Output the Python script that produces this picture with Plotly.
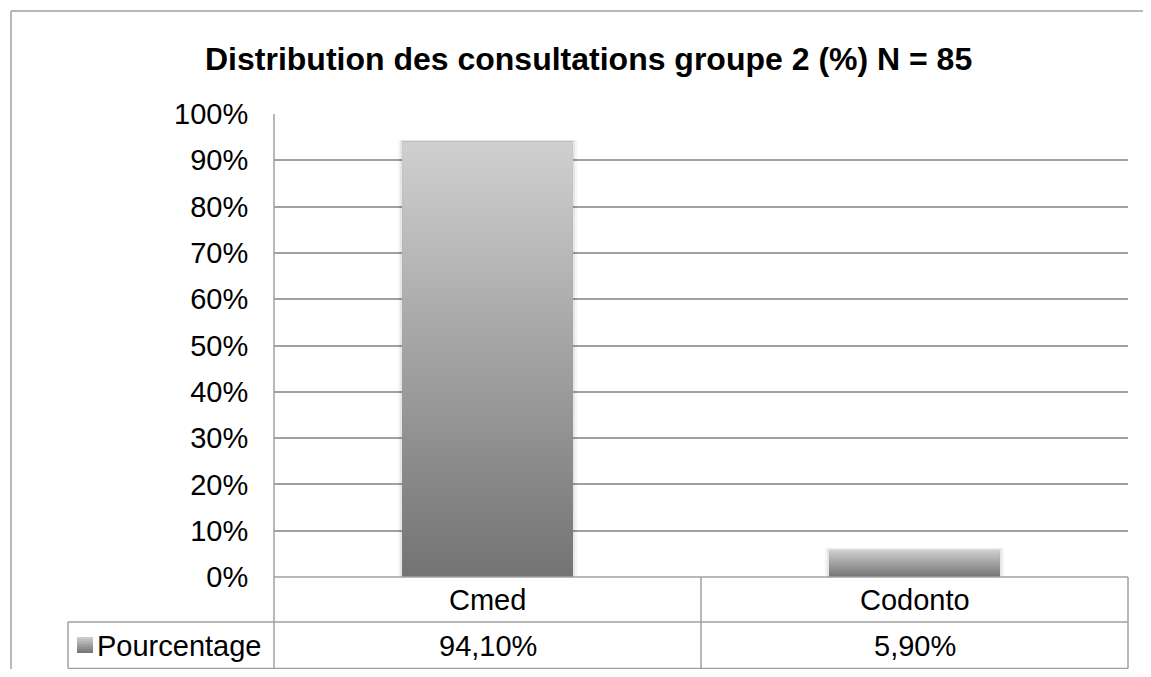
import plotly.graph_objects as go

# ---- data ----
categories = ["Cmed", "Codonto"]
values = [94.1, 5.9]          # percent
series_name = "Pourcentage"
title_text = "Distribution des consultations groupe 2 (%) N = 85"
y_ticks = list(range(0, 101, 10))

# ---- layout geometry (pixels, in screenshot space) ----
SCREEN_W, SCREEN_H = 1151, 677
OFF = 8   # page body margin of the browser
W, H = SCREEN_W - 2 * OFF, SCREEN_H - 2 * OFF   # avoid page scrollbars
PL, PR, PT, PB = 274, 1128, 114, 577
FONT = "Liberation Sans, Arial, sans-serif"
FS = 29
GRID = "#a0a0a0"
BAR_W = 0.40

def yp(y):  # screenshot pixel y -> paper y
    return (PB - y) / (PB - PT)

def xp(x):  # screenshot pixel x -> paper x
    return (x - PL) / (PR - PL)

fig = go.Figure()

xs = list(range(len(categories)))

# base bars (data)
fig.add_trace(go.Bar(
    x=xs, y=values, width=BAR_W, marker=dict(color="#a0a0a0", line=dict(width=0)),
    name=series_name, showlegend=False, hoverinfo="skip",
))

# gradient overlay for each bar, derived from the same data
for i, v in zip(xs, values):
    for k, a in [(0.010, 0.04), (0.005, 0.06)]:
        fig.add_trace(go.Scatter(
            x=[i - BAR_W / 2 - k, i + BAR_W / 2 + k, i + BAR_W / 2 + k, i - BAR_W / 2 - k, i - BAR_W / 2 - k],
            y=[0, 0, v + 0.3, v + 0.3, 0],
            fill="toself", mode="none", fillcolor=f"rgba(0,0,0,{a})",
            showlegend=False, hoverinfo="skip",
        ))
    fig.add_trace(go.Scatter(
        x=[i - BAR_W / 2, i + BAR_W / 2, i + BAR_W / 2, i - BAR_W / 2, i - BAR_W / 2],
        y=[0, 0, v, v, 0],
        fill="toself", mode="none",
        fillgradient=dict(type="vertical",
                          colorscale=[[0, "#737373"], [1, "#d0d0d0"]]),
        showlegend=False, hoverinfo="skip",
    ))

shapes = []
line = dict(color=GRID, width=1.5)
def hline(y, x0, x1):
    shapes.append(dict(type="line", xref="paper", yref="paper",
                       x0=xp(x0), x1=xp(x1), y0=yp(y), y1=yp(y), line=line, layer="above"))
def vline(x, y0, y1):
    shapes.append(dict(type="line", xref="paper", yref="paper",
                       x0=xp(x), x1=xp(x), y0=yp(y0), y1=yp(y1), line=line, layer="above"))

# outer chart border (cut off at right / bottom)
hline(11, 11, SCREEN_W + 30)
vline(11, 11, SCREEN_H + 30)

# data table
hline(PB, PL, PR)
hline(622, 68, PR)
hline(668.5, 68, PR)
vline(68, 622, 668.5)
vline(PL, PT, 668.5)
vline(PR, PB, 668.5)
for i in range(len(categories) - 1):
    shapes.append(dict(type="line", xref="x", yref="paper", x0=i + 0.5, x1=i + 0.5,
                       y0=yp(PB), y1=yp(668.5), line=line, layer="above"))

# legend key (small gradient square)
n = 8
for k in range(n):
    c = int(0xd0 - (0xd0 - 0x73) * (k + 0.5) / n)
    shapes.append(dict(type="rect", xref="paper", yref="paper",
                       x0=xp(77), x1=xp(93), y0=yp(637 + 2 * k), y1=yp(639 + 2 * k),
                       fillcolor=f"rgb({c},{c},{c})", line=dict(width=0), layer="above"))

annotations = []
for i, (c, v) in enumerate(zip(categories, values)):
    annotations.append(dict(x=i, xref="x", y=yp(600), yref="paper", text=c,
                            showarrow=False, font=dict(size=FS, color="black", family=FONT),
                            xanchor="center", yanchor="middle"))
    annotations.append(dict(x=i, xref="x", y=yp(646), yref="paper",
                            text=f"{v:.2f}".replace(".", ",") + "%",
                            showarrow=False, font=dict(size=FS, color="black", family=FONT),
                            xanchor="center", yanchor="middle"))
annotations.append(dict(x=xp(95), xref="paper", y=yp(646), yref="paper", text=series_name,
                        showarrow=False, font=dict(size=FS, color="black", family=FONT),
                        xanchor="left", yanchor="middle"))
annotations.append(dict(x=xp(588.5), xref="paper", y=yp(59), yref="paper",
                        text=f"<b>{title_text}</b>",
                        showarrow=False, font=dict(size=32, color="black", family=FONT),
                        xanchor="center", yanchor="middle"))

fig.update_layout(
    width=W, height=H,
    margin=dict(l=PL - OFF, r=W - (PR - OFF), t=PT - OFF, b=H - (PB - OFF), autoexpand=False),
    paper_bgcolor="white", plot_bgcolor="white",
    showlegend=False,
    bargap=0,
    xaxis=dict(range=[-0.5, len(categories) - 0.5], showticklabels=False, showgrid=False,
               zeroline=False, showline=False, ticks="", fixedrange=True),
    yaxis=dict(range=[0, 100], tickvals=y_ticks, ticktext=[f"{t}%" for t in y_ticks],
               showgrid=True, gridcolor=GRID, gridwidth=1.5, zeroline=False,
               showline=False, ticks="outside", ticklen=19, tickcolor="rgba(0,0,0,0)",
               tickfont=dict(size=FS, color="black", family=FONT), fixedrange=True),
    shapes=shapes,
    annotations=annotations,
)

fig.write_html("out.html")
